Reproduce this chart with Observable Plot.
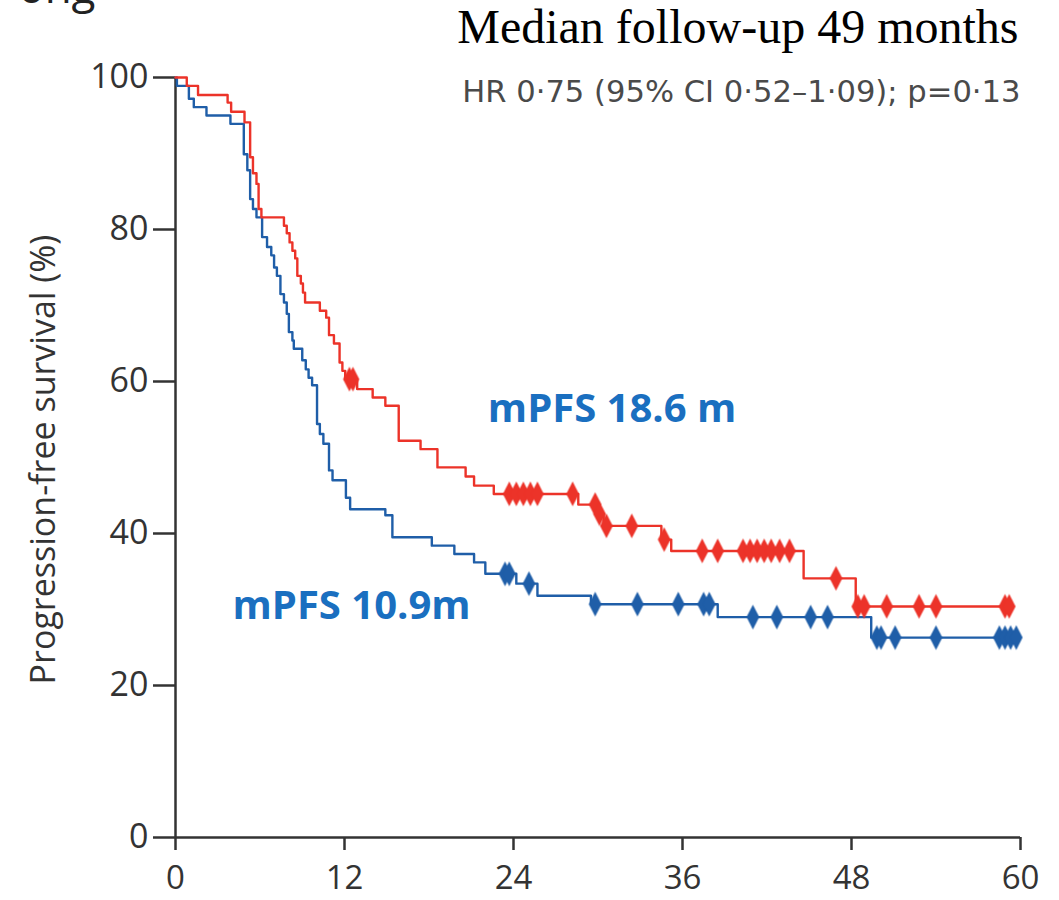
<!DOCTYPE html>
<html>
<head>
<meta charset="utf-8">
<script src="https://cdn.jsdelivr.net/npm/d3@7"></script>
<script src="https://cdn.jsdelivr.net/npm/@observablehq/plot@0.6"></script>
<style>
  html, body { margin: 0; padding: 0; background: #fff; }
  #chart svg { display: block; }
  #chart g[aria-label="dot"] { filter: blur(0.7px); }
</style>
</head>
<body>
<div id="chart"></div>
<script>
// Kaplan–Meier progression-free survival, two arms (months, % surviving after each step)
const redTime = [0, 0.8, 1.6, 3.7, 3.95, 4.9, 5.3, 5.5, 5.75, 5.9, 6.1, 7.7, 7.9, 8.1, 8.3, 8.5, 8.65, 8.9, 9.05, 9.2,
  10.25, 10.7, 10.9, 11.25, 11.65, 11.85, 12.05, 12.9, 14.0, 14.9, 15.85, 17.4, 18.6, 20.6, 21.2, 22.6,
  28.6, 29.9, 30.4, 34.5, 35.2, 44.6, 48.3];
const redSurv = [100, 98.9, 97.7, 96.7, 95.5, 94.1, 89.5, 87.4, 86.0, 82.7, 81.6, 80.5, 79.5, 78.3, 77.2, 76.2, 73.9, 72.9, 71.7, 70.4,
  69.3, 68.4, 66.1, 65.0, 62.5, 61.4, 60.3, 59.0, 57.9, 56.8, 52.2, 51.1, 48.7, 47.5, 46.3, 45.2,
  43.8, 42.6, 41.0, 39.2, 37.7, 34.1, 30.4];
const redCensored = [12.35, 12.6, 23.7, 24.2, 24.7, 25.2, 25.7, 28.2, 29.8, 30.1, 30.6, 32.4, 34.7,
  37.4, 38.5, 40.3, 40.8, 41.3, 41.8, 42.3, 42.9, 43.6, 46.9, 48.45, 48.9, 50.5, 52.8, 54.0, 58.9, 59.2];
const redLastFollowUp = 59.3;

const blueTime = [0, 0.1, 0.95, 1.3, 2.2, 3.9, 4.85, 5.1, 5.3, 5.5, 5.75, 6.15, 6.5, 6.8, 7.0, 7.2, 7.45, 7.7, 7.9, 8.05,
  8.3, 8.4, 9.0, 9.25, 9.45, 9.7, 10.05, 10.25, 10.5, 10.9, 11.15, 12.1, 12.4, 14.9, 15.4, 18.2, 19.8, 21.2,
  22.0, 24.2, 25.7, 29.5, 38.5, 49.4];
const blueSurv = [100, 98.9, 97.2, 96.1, 95.0, 93.9, 89.9, 87.8, 84.0, 82.7, 81.6, 79.0, 77.7, 76.6, 75.0, 73.9, 71.5, 70.4, 68.9, 66.5,
  65.4, 64.3, 62.8, 61.6, 60.5, 59.5, 54.4, 53.1, 51.8, 48.3, 47.0, 44.7, 43.2, 42.4, 39.5, 38.4, 37.3, 36.2,
  34.7, 33.4, 31.8, 30.7, 29.0, 26.3];
const blueCensored = [23.4, 23.7, 25.1, 29.8, 32.8, 35.7, 37.5, 37.9, 41.0, 42.7, 45.1, 46.3,
  49.8, 50.1, 51.1, 54.0, 58.5, 58.9, 59.3, 59.7];
const blueLastFollowUp = 59.8;

const monthTicks = [0, 12, 24, 36, 48, 60];
const percentTicks = [0, 20, 40, 60, 80, 100];

const medianLabels = ["mPFS 18.6 m", "mPFS 10.9m"];
const followUpText = "Median follow-up 49 months";
const hrText = "HR 0\u00b775 (95% CI 0\u00b752\u20131\u00b709); p=0\u00b713";
const yTitle = "Progression-free survival (%)";
const panelTitleTail = "ong";

const RED = "#ec3329";
const BLUE = "#1f5ea8";
const LABEL_BLUE = "#1a6fc0";

// step curve rows, extended to the last follow-up time
function curve(times, surv, last) {
  const rows = times.map((t, i) => ({t, s: surv[i]}));
  rows.push({t: last, s: surv[surv.length - 1]});
  return rows;
}
// censor ticks sit on the curve level at their time
function censorRows(censored, times, surv) {
  return censored.map(c => {
    let s = surv[0];
    for (let i = 0; i < times.length; ++i) if (times[i] <= c) s = surv[i];
    return {t: c, s};
  });
}

// tall diamond used for censoring marks
const tallDiamond = {
  draw(ctx, size) {
    const r = Math.sqrt(size / Math.PI);
    const hw = r * 0.85, hh = r * 1.65;
    ctx.moveTo(0, -hh);
    ctx.lineTo(hw, 0);
    ctx.lineTo(0, hh);
    ctx.lineTo(-hw, 0);
    ctx.closePath();
  }
};

const redRows = curve(redTime, redSurv, redLastFollowUp);
const blueRows = curve(blueTime, blueSurv, blueLastFollowUp);
const redCens = censorRows(redCensored, redTime, redSurv);
const blueCens = censorRows(blueCensored, blueTime, blueSurv);

const chart = Plot.plot({
  width: 1059,
  height: 900,
  marginLeft: 175,
  marginRight: 39,
  marginTop: 77,
  marginBottom: 63,
  style: {fontFamily: "'Open Sans', sans-serif", fontSize: "33px", color: "#333", background: "#fff"},
  x: {domain: [0, 60]},
  y: {domain: [0, 100]},
  marks: [
    Plot.axisX({ticks: monthTicks, tickFormat: d => String(d), tickSize: 13, tickPadding: 15, strokeWidth: 2.5, label: null, fontSize: 33}),
    Plot.axisY({ticks: percentTicks, tickFormat: d => String(d), tickSize: 22, tickPadding: 5, strokeWidth: 2.5, label: null, fontSize: 34}),
    Plot.ruleX([0], {stroke: "#333", strokeWidth: 2.5}),
    Plot.ruleY([0], {stroke: "#333", strokeWidth: 2.5}),
    Plot.line(blueRows, {x: "t", y: "s", curve: "step-after", stroke: BLUE, strokeWidth: 2.4}),
    Plot.line(redRows, {x: "t", y: "s", curve: "step-after", stroke: RED, strokeWidth: 2.4}),
    Plot.dot(blueCens, {x: "t", y: "s", symbol: tallDiamond, r: 7.5, fill: BLUE, stroke: "none"}),
    Plot.dot(redCens, {x: "t", y: "s", symbol: tallDiamond, r: 7.5, fill: RED, stroke: "none"}),
    Plot.text([medianLabels[0]], {x: () => 31.0, y: () => 56.4, text: d => d, fill: LABEL_BLUE, fontWeight: "bold", fontSize: 40, textAnchor: "middle"}),
    Plot.text([medianLabels[1]], {x: () => 12.5, y: () => 30.5, text: d => d, fill: LABEL_BLUE, fontWeight: "bold", fontSize: 40, textAnchor: "middle"}),
    Plot.text([followUpText], {frameAnchor: "top-right", text: d => d, dx: -2, dy: -50, lineAnchor: "middle", textAnchor: "end", fontFamily: "'Liberation Serif', 'Times New Roman', serif", fontSize: 48, fill: "#000"}),
    Plot.text([hrText], {frameAnchor: "top-right", text: d => d, dx: 0, dy: 15, lineAnchor: "middle", textAnchor: "end", fontFamily: "'DejaVu Sans', sans-serif", fontSize: 30.6, fill: "#4a4a4a"}),
    Plot.text([yTitle], {frameAnchor: "left", text: d => d, dx: -131, dy: 2, rotate: -90, lineAnchor: "middle", textAnchor: "middle", fontSize: 34, fill: "#333"}),
    Plot.text([panelTitleTail], {frameAnchor: "top-left", text: d => d, dx: -80, dy: -89, lineAnchor: "middle", textAnchor: "end", fontSize: 44, fill: "#222"})
  ]
});

document.getElementById("chart").appendChild(chart);
</script>
</body>
</html>
